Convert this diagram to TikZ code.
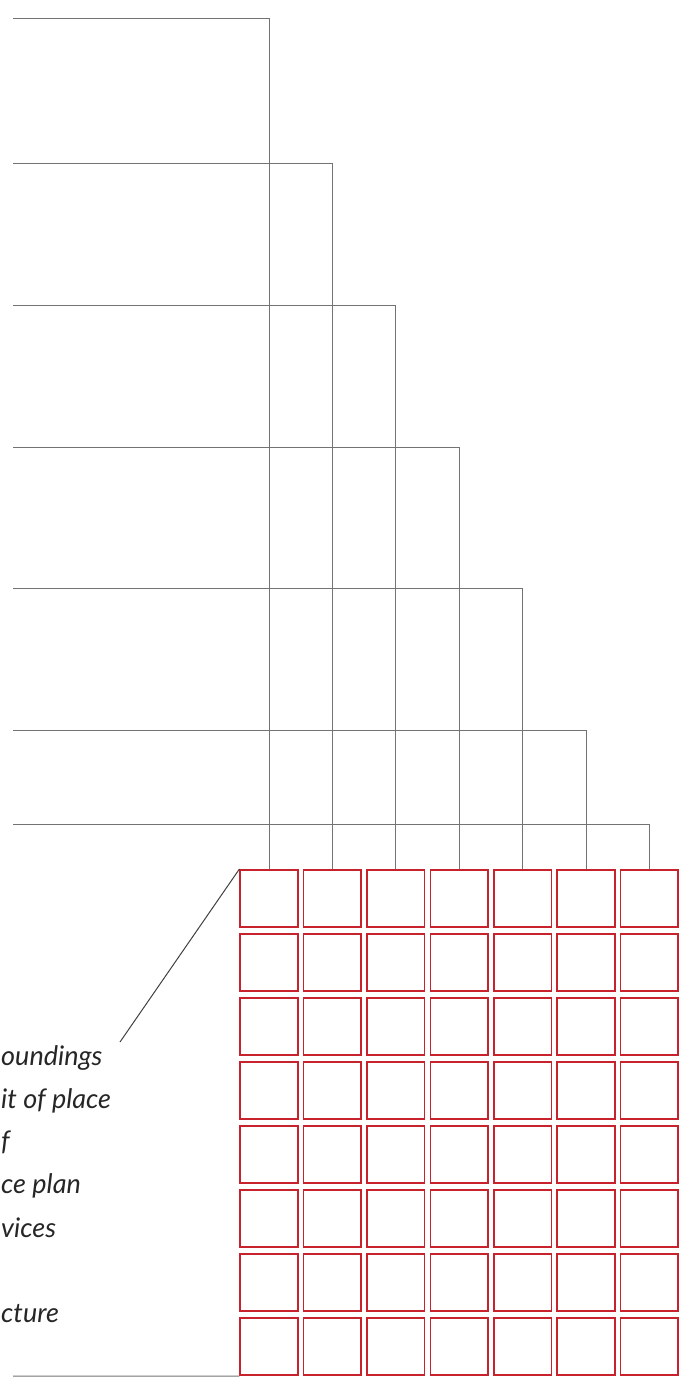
\documentclass[tikz,border=0pt]{standalone}
\usepackage{fontspec}
\setmainfont{Lato}
\usetikzlibrary{positioning}
\usepackage{xcolor}
\definecolor{gridred} {RGB}{200, 35, 45}
\definecolor{leadgray}{RGB}{115,115,115}

\begin{document}
\begin{tikzpicture}[
    x=1pt, y=-1pt,
    cell/.style={draw=gridred, line width=1.6pt, minimum size=57.5pt, inner sep=0pt},
    lead/.style={draw=leadgray, line width=1pt},
    tagtext/.style={anchor=base west, inner sep=0pt, font=\fontsize{27}{32}\selectfont\itshape, text=black!85}
]
    \useasboundingbox (0,0) rectangle (683,1382);

    % grid of cells
    \foreach \r in {1,...,8}
        \foreach \c in {1,...,7}
            \node[cell] (cell-\r-\c) at ({269+(\c-1)*63.4},{898.5+(\r-1)*64}) {};

    % leaders into the top row
    \foreach \c/\y in {1/18.5, 2/163.7, 3/305, 4/447, 5/588, 6/730, 7/824} {
        \coordinate (start-\c) at (13,\y);
        \draw[lead] (start-\c) -| (cell-1-\c.north);
    }
    \coordinate (start-8) at (13,1376);
    \draw[lead] (start-8) -- (cell-8-1.south west);

    % pointer to the texts
    \coordinate (tip) at (120,1042);
    \draw[lead, draw=black!75] (cell-1-1.north west) -- (tip);

    \node[tagtext] (t1) at (1,1065) {oundings};
    \node[tagtext] (t2) at (1,1108) {it of place};
    \node[tagtext] (t3) at (1,1150) {f};
    \node[tagtext] (t4) at (1,1193) {ce plan};
    \node[tagtext] (t5) at (1,1237) {vices};
    \node[tagtext] (t6) at (1,1322) {cture};
\end{tikzpicture}
\end{document}
